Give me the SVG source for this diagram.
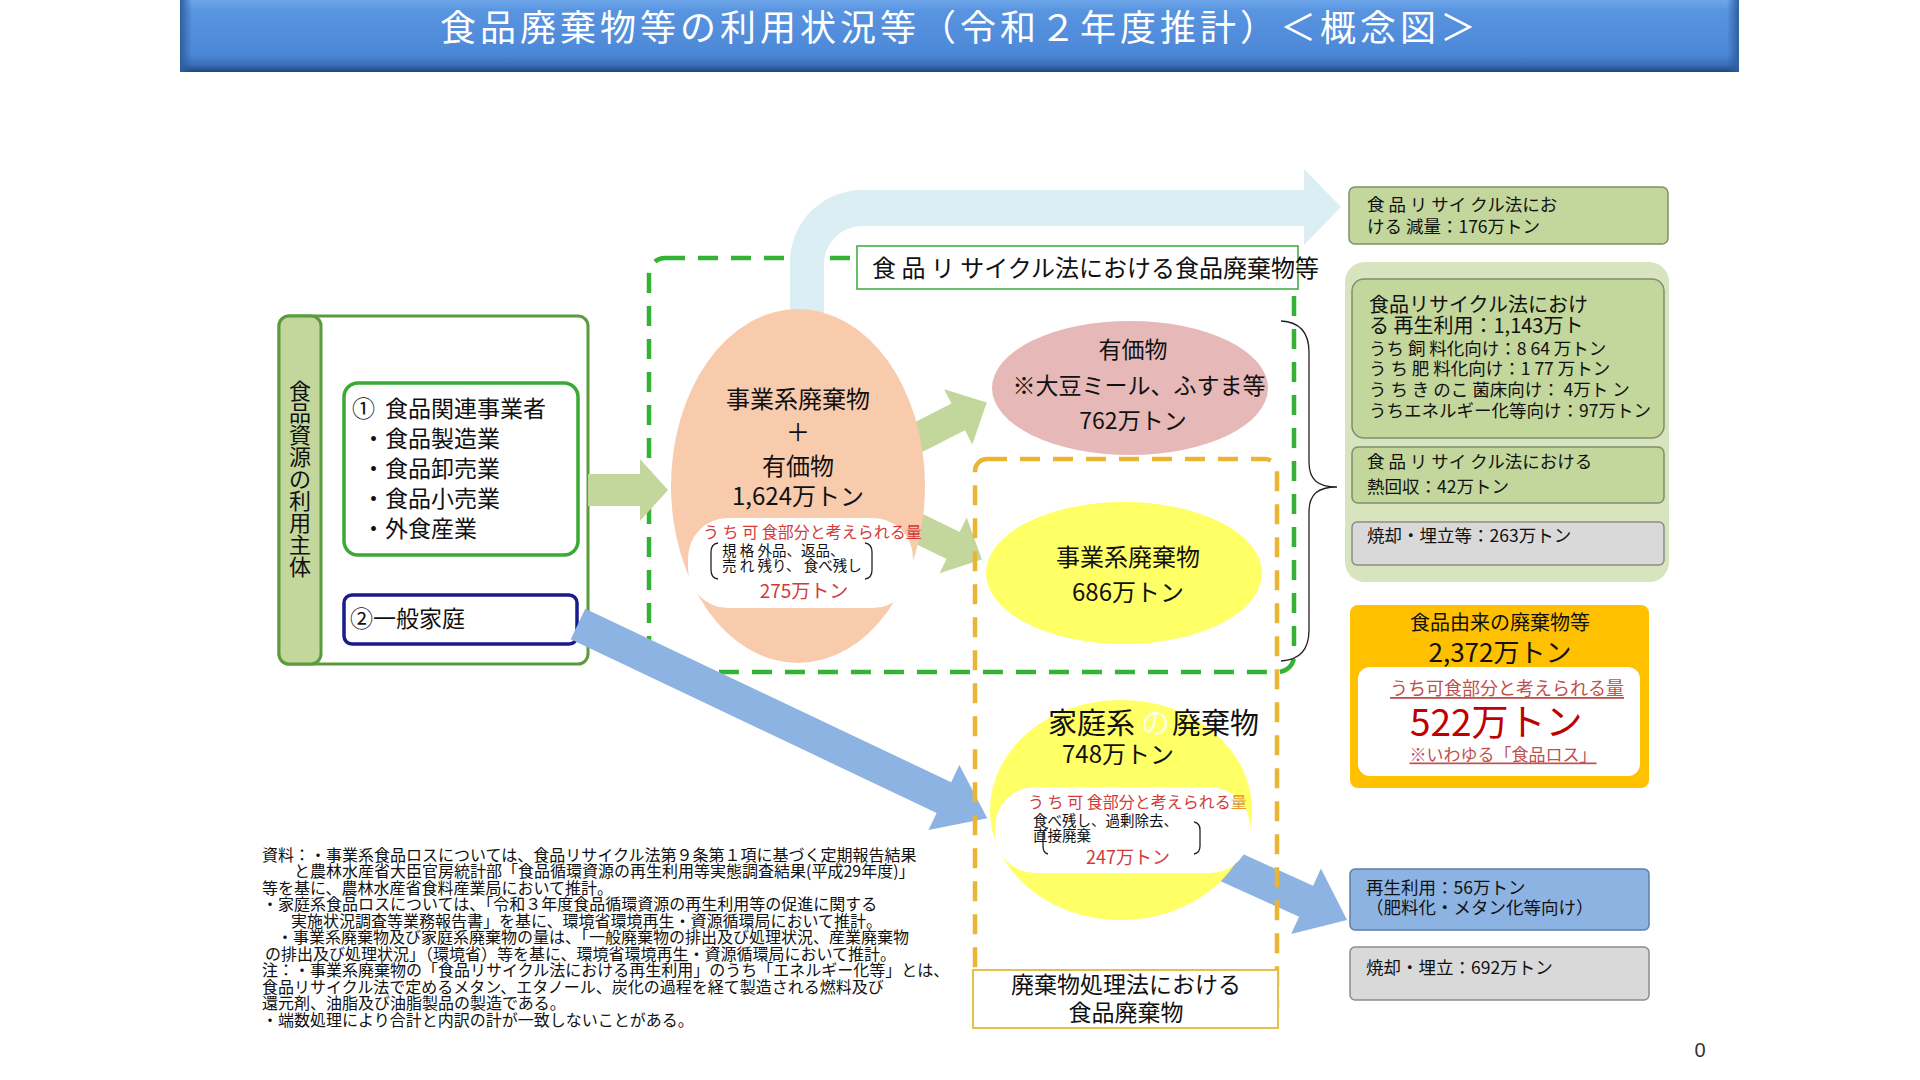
<svg xmlns="http://www.w3.org/2000/svg" width="1920" height="1080" viewBox="0 0 1920 1080">
<defs>
<linearGradient id="tg" x1="0" y1="0" x2="0" y2="1">
<stop offset="0" stop-color="#6ea6ea"/>
<stop offset="0.15" stop-color="#5894e0"/>
<stop offset="0.75" stop-color="#4d88d8"/>
<stop offset="0.9" stop-color="#3a6eb8"/>
<stop offset="1" stop-color="#1d467c"/>
</linearGradient>
<linearGradient id="tgl" x1="0" y1="0" x2="1" y2="0">
<stop offset="0" stop-color="#2f5f9f"/>
<stop offset="1" stop-color="#2f5f9f" stop-opacity="0"/>
</linearGradient>
<linearGradient id="tgr" x1="1" y1="0" x2="0" y2="0">
<stop offset="0" stop-color="#2f5f9f"/>
<stop offset="1" stop-color="#2f5f9f" stop-opacity="0"/>
</linearGradient>
</defs>
<style>
text{font-family:"Noto Sans CJK JP","Noto Sans",sans-serif;fill:#111;dominant-baseline:central}
.t23{font-size:23px}
.t24{font-size:24px}
.t17{font-size:17.5px}
.t16{font-size:16px}
.s{font-size:14.5px}
.red{fill:#d23a3a}
.mid{text-anchor:middle}
.gbox{fill:#c3d69b;stroke:#7f8f6f;stroke-width:1.5}
.grey{fill:#d9d9d9;stroke:#8c8c8c;stroke-width:1.5}
.garrow{fill:#c3d69b}
.barrow{fill:#8db3e2}
.brk{fill:none;stroke:#222;stroke-width:1.3}
.foot text{font-size:16px}
</style>
<rect width="1920" height="1080" fill="#ffffff"/>

<g id="title">
<rect x="180" y="0" width="1559" height="72" fill="url(#tg)"/>
<rect x="180" y="0" width="12" height="72" fill="url(#tgl)"/>
<rect x="1727" y="0" width="12" height="72" fill="url(#tgr)"/>
<text x="960" y="25" class="mid" style="font-size:36px;fill:#ffffff;letter-spacing:4px">食品廃棄物等の利用状況等（令和２年度推計）＜概念図＞</text>
</g>

<g id="left-box">
<rect x="279" y="316" width="309" height="348" rx="10" fill="#ffffff" stroke="#5b9b3c" stroke-width="3"/>
<rect x="279" y="316" width="42" height="348" rx="10" fill="#c3d69b" stroke="#5b9b3c" stroke-width="3"/>
<text class="mid" style="font-size:22px"><tspan x="300" y="389">食</tspan><tspan x="300" y="411">品</tspan><tspan x="300" y="433">資</tspan><tspan x="300" y="455">源</tspan><tspan x="300" y="477">の</tspan><tspan x="300" y="499">利</tspan><tspan x="300" y="521">用</tspan><tspan x="300" y="543">主</tspan><tspan x="300" y="565">体</tspan></text>
</g>

<g id="node-business">
<rect x="344" y="383" width="234" height="172" rx="14" fill="#ffffff" stroke="#3aaa35" stroke-width="3.5"/>
<text class="t23"><tspan x="352" y="407">①</tspan><tspan x="385" y="407">食品関連事業者</tspan><tspan x="362" y="437">・食品製造業</tspan><tspan x="362" y="467">・食品卸売業</tspan><tspan x="362" y="497">・食品小売業</tspan><tspan x="362" y="527">・外食産業</tspan></text>
</g>

<g id="node-household">
<rect x="344" y="595" width="233" height="49" rx="8" fill="#ffffff" stroke="#1a1a8c" stroke-width="3.5"/>
<text class="t23" x="350" y="617">②一般家庭</text>
</g>

<g id="frame-recycle">
<rect x="649" y="258" width="645" height="414" rx="16" fill="none" stroke="#33b233" stroke-width="4.5" stroke-dasharray="20 13"/>
</g>

<g id="connectors">
<path d="M790,345 L790,262 A72,72 0 0 1 862,190 L1304,190 L1304,169 L1341,207 L1304,245 L1304,226 L862,226 A38,38 0 0 0 824,264 L824,345 Z" fill="#daeef3"/>
<polygon class="barrow" transform="translate(578,624) rotate(25.38)" points="0,-17 405,-17 405,-36 453,0 405,36 405,17 0,17"/>
<polygon class="barrow" transform="translate(1215,860) rotate(24.4)" points="0,-17 100,-17 100,-36 145,0 100,36 100,17 0,17"/>
<polygon class="garrow" points="588,474 640,474 640,459 668,490 640,521 640,506 588,506"/>
<polygon class="garrow" transform="translate(911,441) rotate(-27)" points="0,-15 53,-15 53,-31 85,0 53,31 53,15 0,15"/>
<polygon class="garrow" transform="translate(901,520) rotate(26)" points="0,-15 58,-15 58,-31 90,0 58,31 58,15 0,15"/>
</g>

<g id="frame-waste">
<rect x="975" y="459" width="302" height="560" rx="12" fill="none" stroke="#ebb534" stroke-width="4.5" stroke-dasharray="20 13"/>
</g>

<g id="node-total">
<ellipse cx="798" cy="486" rx="127" ry="177" fill="#f8cbad"/>
<text class="t24 mid" x="798" y="397">事業系廃棄物</text>
<text class="t24 mid" x="798" y="430">＋</text>
<text class="t24 mid" x="798" y="464">有価物</text>
<text class="t24 mid" x="798" y="494">1,624万トン</text>
<rect x="688" y="518" width="225" height="90" rx="40" fill="#ffffff"/>
<text class="t16 red" x="703" y="531">う ち 可 食部分と考えられる量</text>
<text class="s" x="722" y="549">規 格 外品、返品、</text>
<text class="s" x="722" y="564">売 れ 残り、 食べ残し</text>
<path class="brk" d="M718,543 Q711,544 711,552 L711,570 Q711,578 718,579"/>
<path class="brk" d="M865,543 Q872,544 872,552 L872,570 Q872,578 865,579"/>
<text class="red mid" x="804" y="589" style="font-size:19px">275万トン</text>
</g>

<g id="node-valuables">
<ellipse cx="1130" cy="388" rx="138" ry="67" fill="#e6b9b8"/>
<text class="t23 mid" x="1133" y="348">有価物</text>
<text class="t23 mid" x="1139" y="384">※大豆ミール、ふすま等</text>
<text class="t23 mid" x="1133" y="419">762万トン</text>
</g>

<g id="node-business-waste">
<ellipse cx="1124" cy="573" rx="138" ry="71" fill="#ffff66"/>
<text class="t24 mid" x="1128" y="555">事業系廃棄物</text>
<text class="t24 mid" x="1128" y="590">686万トン</text>
</g>

<g id="node-household-waste">
<ellipse cx="1121" cy="810" rx="131" ry="110" fill="#ffff66"/>
<text style="font-size:29px" y="721"><tspan x="1048">家庭系</tspan><tspan x="1141" style="fill:#fdfde6">の</tspan><tspan x="1172">廃棄物</tspan></text>
<text class="t24 mid" x="1118" y="752">748万トン</text>
<rect x="995" y="787" width="255" height="86" rx="40" fill="#ffffff"/>
<text class="t16 red" x="1028" y="801">う ち 可 食部分と考えられる<tspan style="fill:#e39a2a">量</tspan></text>
<text class="s" x="1033" y="819">食べ残し、過剰除去、</text>
<text class="s" x="1033" y="834">直接廃棄</text>
<path class="brk" d="M1048,828 Q1043,829 1043,836 L1043,846 Q1043,853 1048,854"/>
<path class="brk" d="M1194,822 Q1200,823 1200,830 L1200,846 Q1200,853 1194,854"/>
<text class="red mid" x="1128" y="856" style="font-size:18px">247万トン</text>
</g>

<g id="label-recycle">
<rect x="857" y="246" width="441" height="43" fill="#ffffff" stroke="#3aaa35" stroke-width="1.5"/>
<text class="t24" x="872" y="266">食 品 リ サイクル法における食品廃棄物等</text>
</g>

<g id="label-waste">
<rect x="973" y="970" width="305" height="58" fill="#ffffff" stroke="#e3c04a" stroke-width="2"/>
<text class="t23 mid" x="1126" y="983">廃棄物処理法における</text>
<text class="t23 mid" x="1126" y="1011">食品廃棄物</text>
</g>

<g id="brace">
<path d="M1281,321 C1300,322 1309,332 1309,352 L1309,462 C1309,480 1318,487 1337,487 C1318,487 1309,494 1309,512 L1309,630 C1309,650 1300,660 1281,661" fill="none" stroke="#222" stroke-width="1.3"/>
</g>

<g id="box-reduction">
<rect class="gbox" x="1349" y="187" width="319" height="57" rx="6"/>
<text class="t17" x="1367" y="203">食 品 リ サイ クル法にお</text>
<text class="t17" x="1367" y="225">ける 減量：176万トン</text>
</g>

<g id="group-business-result">
<rect x="1345" y="262" width="324" height="320" rx="20" fill="#d7e4bd"/>
<g id="box-reuse">
<rect class="gbox" x="1352" y="279" width="312" height="159" rx="12"/>
<text x="1369" y="303" style="font-size:20px">食品リサイクル法におけ</text>
<text x="1369" y="324" style="font-size:20px">る 再生利用：1,143万ト</text>
<text class="t17" x="1369" y="347">うち 飼 料化向け：8 64 万トン</text>
<text class="t17" x="1369" y="367">う ち 肥 料化向け：1 77 万トン</text>
<text class="t17" x="1369" y="388">う ち き のこ 菌床向け： 4万ト ン</text>
<text class="t17" x="1369" y="409">うちエネルギー化等向け：97万トン</text>
</g>
<g id="box-heat">
<rect class="gbox" x="1352" y="447" width="312" height="56" rx="6"/>
<text class="t17" x="1367" y="460">食 品 リ サイ クル法における</text>
<text class="t17" x="1367" y="485">熱回収：42万トン</text>
</g>
<g id="box-incineration-business">
<rect class="grey" x="1352" y="522" width="312" height="43" rx="5"/>
<text class="t17" x="1367" y="534">焼却・埋立等：263万トン</text>
</g>
</g>

<g id="box-food-loss">
<rect x="1350" y="605" width="299" height="183" rx="8" fill="#ffc000"/>
<text class="mid" x="1500" y="621" style="font-size:20px">食品由来の廃棄物等</text>
<text class="mid" x="1500" y="650" style="font-size:26px">2,372万トン</text>
<rect x="1358" y="667" width="282" height="109" rx="12" fill="#ffffff"/>
<text class="mid" x="1507" y="687" style="font-size:18px;fill:#c0504d;text-decoration:underline">うち可食部分と考えられる量</text>
<text x="1410" y="720" style="font-size:37px;fill:#c00000">522万トン</text>
<text class="mid" x="1503" y="753" style="font-size:17px;fill:#c0504d;text-decoration:underline">※いわゆる「食品ロス」</text>
</g>

<g id="box-household-reuse">
<rect x="1350" y="869" width="299" height="61" rx="5" fill="#8db3e2" stroke="#5f7fa8" stroke-width="1.5"/>
<text class="t17" x="1366" y="886">再生利用：56万トン</text>
<text class="t17" x="1366" y="906">（肥料化・メタン化等向け）</text>
</g>

<g id="box-household-incineration">
<rect class="grey" x="1350" y="947" width="299" height="53" rx="5"/>
<text class="t17" x="1366" y="966">焼却・埋立：692万トン</text>
</g>

<g id="footnotes" class="foot">
<text x="262" y="854">資料：・事業系食品ロスについては、食品リサイクル法第９条第１項に基づく定期報告結果</text>
<text x="294" y="870">と農林水産省大臣官房統計部「食品循環資源の再生利用等実態調査結果(平成29年度)」</text>
<text x="262" y="887">等を基に、農林水産省食料産業局において推計。</text>
<text x="262" y="903">・家庭系食品ロスについては、「令和３年度食品循環資源の再生利用等の促進に関する</text>
<text x="291" y="920">実施状況調査等業務報告書」を基に、環境省環境再生・資源循環局において推計。</text>
<text x="277" y="936">・事業系廃棄物及び家庭系廃棄物の量は、「一般廃棄物の排出及び処理状況、産業廃棄物</text>
<text x="265" y="953">の排出及び処理状況」（環境省）等を基に、環境省環境再生・資源循環局において推計。</text>
<text x="262" y="969">注：・事業系廃棄物の「食品リサイクル法における再生利用」のうち「エネルギー化等」とは、</text>
<text x="262" y="986">食品リサイクル法で定めるメタン、エタノール、炭化の過程を経て製造される燃料及び</text>
<text x="262" y="1002">還元剤、油脂及び油脂製品の製造である。</text>
<text x="262" y="1019">・端数処理により合計と内訳の計が一致しないことがある。</text>
</g>

<text x="1700" y="1050" class="mid" style="font-family:'Liberation Sans',sans-serif;font-size:20px;fill:#333">0</text>
</svg>
